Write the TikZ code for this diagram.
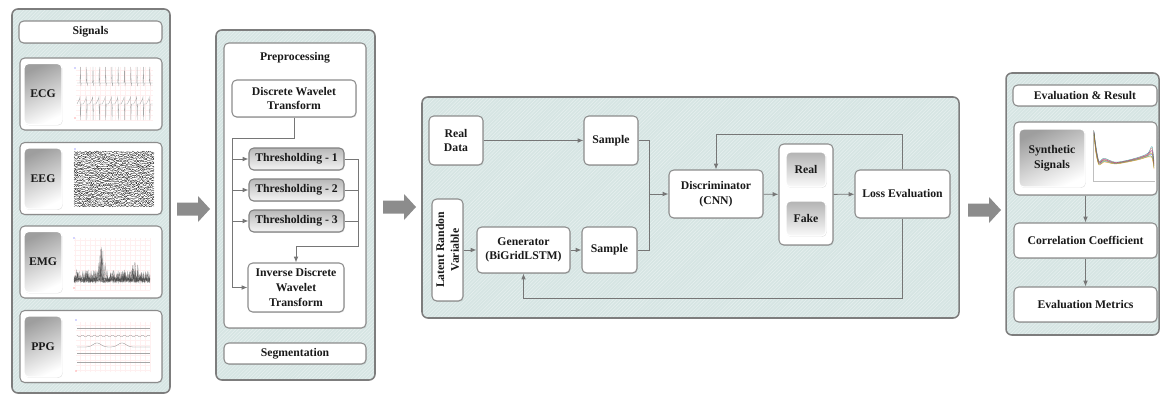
\documentclass[tikz,border=0pt]{standalone}
\usepackage{fontspec}
\setmainfont{Liberation Serif}
\usepackage{tikz}
\usetikzlibrary{arrows.meta, patterns, shadows}

\newcommand{\pxu}{0.03cm}
\definecolor{panelbg}{RGB}{214,229,227}
\definecolor{panelhatch}{RGB}{232,241,240}
\definecolor{rimgray}{RGB}{125,125,125}
\definecolor{linegray}{RGB}{118,118,118}
\definecolor{arrowgray}{RGB}{140,140,140}

\tikzset{
  sz/.style 2 args={minimum width=#1*\pxu, minimum height=#2*\pxu},
  lbl/.style={font=\fontsize{10}{12.5}\selectfont\bfseries, align=center, text=black!90},
  panel/.style={draw=rimgray, line width=1.3pt, rounded corners=5pt,
    preaction={fill=panelbg}, preaction={pattern=north east lines, pattern color=panelhatch}, inner sep=0pt},
  card/.style={lbl, draw=black!45, line width=0.9pt, rounded corners=4pt, fill=white,
    drop shadow={opacity=0.25, shadow xshift=0.6pt, shadow yshift=-0.8pt}, inner sep=0pt},
  tag/.style={card, draw=white, top color=black!38, bottom color=white, shading angle=25},
  thr/.style={card, draw=black!50, top color=black!28, bottom color=black!4},
  btn/.style={card, draw=white, top color=black!30, bottom color=black!2},
  wire/.style={draw=linegray, line width=0.7pt},
  flow/.style={wire, -{Latex[length=5pt,width=4pt]}},
  trace/.style={line width=0.25pt},
}

\begin{document}
\begin{tikzpicture}[x=\pxu, y=-\pxu]
  \useasboundingbox (0,0) rectangle (1161,396);

  % panels
  \node[panel, sz={158}{384}] (sigpanel) at (91,201) {};
  \node[panel, sz={159}{350}] (prepanel) at (295.5,205) {};
  \node[panel, sz={537}{221}] (ganpanel) at (690.5,207.5) {};
  \node[panel, sz={153}{262}] (evalpanel) at (1082.5,204) {};

  % big arrows between the panels
  \foreach \ax/\ay in {177/209, 383/207, 968/210}
    \fill[arrowgray] (\ax,\ay-6.5) -- (\ax+21,\ay-6.5) -- (\ax+21,\ay-13) -- (\ax+33,\ay)
      -- (\ax+21,\ay+13) -- (\ax+21,\ay+6.5) -- (\ax,\ay+6.5) -- cycle;

  % signals
  \node[card, sz={143}{22}] (sighead) at (90.5,32) {Signals};
  \foreach \n/\y in {ECG/94, EEG/178.5, EMG/262, PPG/346.5} {
    \node[card, sz={142}{72}] (\n card) at (91,\y) {};
    \node[tag, sz={38}{61}] (\n tag) at (43,\y) {\n};
  }

  % ECG plot
  \draw[red!6, line width=0.2pt, step=0.15cm] (76,67) grid (153,120);
  \foreach \k in {0,...,11} {
    \pgfmathsetmacro\bx{80+6.3*\k}
    \draw[black!35, trace] (\bx-3,83) -- (\bx,83) -- (\bx+0.4,67) -- (\bx+0.9,86) -- (\bx+1.3,83) -- (\bx+3.3,83);
    \draw[black!35, trace] (\bx-3,104) -- (\bx-0.5,99) -- (\bx,97) -- (\bx+0.5,120) -- (\bx+1,104) -- (\bx+3.3,104);
  }
  \fill[blue!70] (75,68) circle[radius=0.6pt];
  \fill[red!70] (75,118) circle[radius=0.6pt];

  % EEG plot
  \pgfmathsetseed{7}
  \foreach \r in {0,...,27}
    \draw[black!90, trace] plot[domain=74:154, samples=120] (\x, {152+\r*2+0.9*rand});
  \fill[blue!70] (75,149) circle[radius=0.6pt];

  % EMG plot
  \draw[red!6, line width=0.2pt, step=0.15cm] (74,238) grid (150,290);
  \foreach \r in {0,...,7}
    \draw[black!75, trace, opacity=0.5] plot[domain=74:150, samples=130]
      (\x, {280+2.5*rand-(rand>0.5)*abs(rand)*(8+34*exp(-(\x-102)*(\x-102)/10)+10*exp(-(\x-135)*(\x-135)/12))});
  \fill[blue!70] (74,238) circle[radius=0.6pt];
  \fill[red!70] (74,288) circle[radius=0.6pt];

  % PPG plot
  \draw[red!6, line width=0.2pt, step=0.15cm] (76,322) grid (150,372);
  \draw[black!35, trace] (77,328) -- (150,328);
  \draw[black!40, trace] plot[domain=77:150, samples=90] (\x, {336+0.8*sin(\x*60)});
  \draw[black!45, trace] plot[domain=77:150, samples=100]
    (\x, {347-4*exp(-(\x-97)*(\x-97)/30)-4*exp(-(\x-122)*(\x-122)/30)});
  \draw[black!35, trace] (77,353) -- (150,353);
  \draw[black!35, trace] (77,362) -- (150,362);
  \fill[blue!70] (76,320) circle[radius=0.6pt];
  \fill[red!70] (76,371) circle[radius=0.6pt];

  % preprocessing
  \node[card, sz={142}{285}] (preproc) at (295,185.5) {};
  \node[lbl] (pretitle) at (295,58) {Preprocessing};
  \node[card, sz={124}{37}] (dwt) at (294,98.5) {Discrete Wavelet\\Transform};
  \node[thr, sz={95}{22}] (thr1) at (296.5,159) {Thresholding - 1};
  \node[thr, sz={95}{22}] (thr2) at (296.5,190) {Thresholding - 2};
  \node[thr, sz={95}{22}] (thr3) at (296.5,221) {Thresholding - 3};
  \node[card, sz={96}{49}] (idwt) at (296,287.5) {Inverse Discrete\\Wavelet\\Transform};
  \node[card, sz={142}{21}] (seg) at (295,353.5) {Segmentation};

  \coordinate (lbus) at (232,138);
  \coordinate (rbus) at (358,246);
  \draw[flow] (dwt.south) |- (lbus) |- (idwt.west);
  \foreach \t in {thr1,thr2,thr3}
    \draw[flow] (lbus |- \t.west) -- (\t.west);
  \foreach \t in {thr2,thr3}
    \draw[wire] (\t.east) -- (rbus |- \t.east);
  \draw[flow] (thr1.east) -| (rbus) -| (idwt.north);

  % GAN
  \node[card, sz={54}{49}] (real) at (456,140.5) {Real\\Data};
  \node[card, sz={54}{49}] (samp1) at (611,140.5) {Sample};
  \node[card, sz={102}{31}, rotate=90] (latent) at (447.5,250) {Latent Randon\\Variable};
  \node[card, sz={93}{46}] (gen) at (523.5,250) {Generator\\(BiGridLSTM)};
  \node[card, sz={55}{46}] (samp2) at (609.5,250) {Sample};
  \node[card, sz={94}{48}] (disc) at (716,194) {Discriminator\\(CNN)};
  \node[card, sz={54}{101}] (rfbox) at (806,194.5) {};
  \node[btn, sz={40}{35}] (realbtn) at (806,169.5) {Real};
  \node[btn, sz={40}{35}] (fakebtn) at (806,218.5) {Fake};
  \node[card, sz={95}{48}] (loss) at (902.5,194) {Loss Evaluation};

  \coordinate (merge) at (649,194);
  \coordinate (fbtop) at (716,134);
  \coordinate (fbbot) at (523.5,298);
  \draw[flow] (real) -- (samp1);
  \draw[wire] (samp1.east) -| (merge);
  \draw[wire] (samp2.east) -| (merge);
  \draw[flow] (merge) -- (disc.west);
  \draw[flow] (latent) -- (gen);
  \draw[flow] (gen) -- (samp2);
  \draw[flow] (disc) -- (rfbox);
  \draw[flow] (rfbox) -- (loss);
  \draw[flow] (loss.north) |- (fbtop) -- (disc.north);
  \draw[flow] (loss.south) |- (fbbot) -- (gen.south);

  % evaluation
  \node[card, sz={144}{21}] (evalhead) at (1085,95.5) {Evaluation \& Result};
  \node[card, sz={143}{73}] (synth) at (1085.5,158.5) {};
  \node[tag, sz={66}{58}] (synthtag) at (1052,158) {Synthetic\\Signals};
  \node[card, sz={143}{35}] (corr) at (1085.5,240.5) {Correlation Coefficient};
  \node[card, sz={143}{35}] (metr) at (1085.5,304.5) {Evaluation Metrics};

  % synthetic signal plot
  \draw[black!25, line width=0.3pt] (1093,130) -- (1093,181) -- (1155,181);
  \foreach \c/\off in {brown/0, green!60!black/1.5, red!70/-1.2, blue!60/0.8, violet/-0.5, orange/2, teal/-1.8, olive/0.4}
    \draw[\c, trace, opacity=0.8] plot[smooth] coordinates {(1094,{133+\off}) (1096,{150+2*\off}) (1099,{163+\off})
      (1104,{160+\off}) (1115,{163+0.5*\off}) (1128,{161+0.5*\off}) (1140,{158+0.7*\off})
      (1148,{155+\off}) (1152,{152+3*\off}) (1154,{165+2*\off})};

  \draw[flow] (synth) -- (corr);
  \draw[flow] (corr) -- (metr);
\end{tikzpicture}
\end{document}
